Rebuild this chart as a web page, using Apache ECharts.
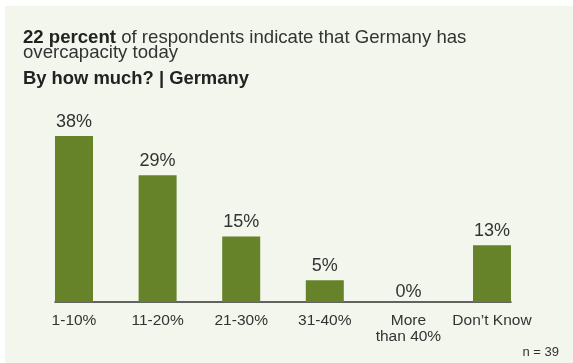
<!DOCTYPE html>
<html>
<head>
<meta charset="utf-8">
<script src="https://cdn.jsdelivr.net/npm/echarts@6/dist/echarts.min.js"></script>
<style>
  html, body { margin: 0; padding: 0; background: #ffffff; }
  #chart { width: 573px; height: 363px; }
</style>
</head>
<body>
<div id="chart"></div>
<script>
// Survey answers: estimated size of German overcapacity
const categories = ['1-10%', '11-20%', '21-30%', '31-40%', 'More\nthan 40%', 'Don\u2019t Know'];
const shares = [38, 29, 15, 5, 0, 13];

const titleLead = '22 percent';
const titleRest = ' of respondents indicate that Germany has';
const titleLine2 = 'overcapacity today';
const subtitle = 'By how much? | Germany';
const sampleNote = 'n = 39';

const GREEN = '#66832a';
const PANEL = '#f3f6ed';
const FONT = '"Liberation Sans", Arial, sans-serif';

const chart = echarts.init(document.getElementById('chart'), null, { renderer: 'canvas' });

chart.setOption({
  backgroundColor: '#ffffff',
  animation: false,
  graphic: [{
    type: 'rect',
    z: -10,
    shape: { x: 5, y: 6, width: 568, height: 357 },
    style: { fill: PANEL }
  }],
  title: [{
    left: 18,
    top: 25,
    text: '{b|' + titleLead + '}{r|' + titleRest + '}\n{r|' + titleLine2 + '}',
    textStyle: {
      fontWeight: 'normal',
      rich: {
        b: { fontFamily: FONT, fontSize: 18.6, fontWeight: 'bold', color: '#222', lineHeight: 15.5 },
        r: { fontFamily: FONT, fontSize: 18.6, fontWeight: 'normal', color: '#333', lineHeight: 15.5 }
      }
    }
  }, {
    left: 18,
    top: 65,
    text: subtitle,
    textStyle: { fontFamily: FONT, fontSize: 18.4, fontWeight: 'bold', color: '#222' }
  }, {
    right: 9,
    top: 341,
    text: sampleNote,
    textStyle: { fontFamily: FONT, fontSize: 13, fontWeight: 'normal', color: '#333' }
  }],
  grid: [
    { left: 32.2, right: 39.2, top: 127.2, bottom: 61, containLabel: false },
    { left: 55, right: 62, top: 127.2, bottom: 61, containLabel: false }
  ],
  xAxis: [{
    type: 'category',
    gridIndex: 0,
    data: categories,
    axisLine: { show: false },
    axisTick: { show: false },
    axisLabel: {
      margin: 11,
      fontFamily: FONT,
      fontSize: 15.5,
      lineHeight: 16,
      color: '#333',
      interval: 0
    }
  }, {
    type: 'value',
    gridIndex: 1,
    min: 0,
    max: 1,
    axisLine: { show: true, onZero: false, lineStyle: { color: '#333', width: 1.5 } },
    axisTick: { show: false },
    axisLabel: { show: false },
    splitLine: { show: false }
  }],
  yAxis: [{
    type: 'value',
    gridIndex: 0,
    min: 0,
    max: 40,
    show: false
  }, {
    type: 'value',
    gridIndex: 1,
    min: 0,
    max: 1,
    show: false
  }],
  series: [{
    type: 'bar',
    xAxisIndex: 0,
    yAxisIndex: 0,
    barWidth: 38,
    itemStyle: { color: GREEN },
    data: shares.map(v => ({
      value: v,
      label: { distance: v === 0 ? 1 : 5 }
    })),
    label: {
      show: true,
      position: 'top',
      formatter: '{c}%',
      fontFamily: FONT,
      fontSize: 18,
      color: '#333'
    }
  }]
});
</script>
</body>
</html>
